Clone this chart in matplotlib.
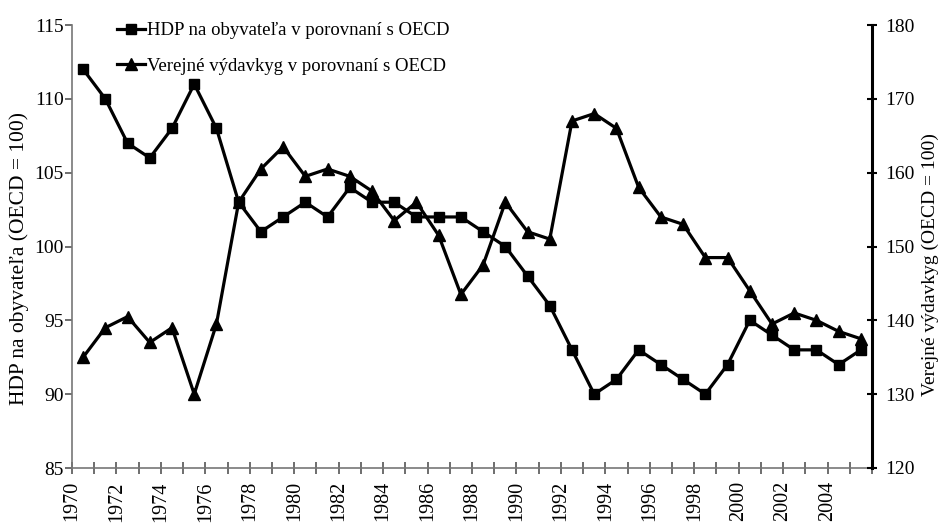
import matplotlib
matplotlib.use("Agg")
import matplotlib.pyplot as plt
import numpy as np

years = list(range(1970, 2006))
hdp = [112, 110, 107, 106, 108, 111, 108, 103, 101, 102, 103, 102, 104, 103, 103, 102,
       102, 102, 101, 100, 98, 96, 93, 90, 91, 93, 92, 91, 90, 92, 95, 94, 93, 93, 92, 93]
vydavky = [135, 139, 140.5, 137, 139, 130, 139.5, 156, 160.5, 163.5, 159.5, 160.5, 159.5,
           157.5, 153.5, 156, 151.5, 143.5, 147.5, 156, 152, 151, 167, 168, 166, 158, 154,
           153, 148.5, 148.5, 144, 139.5, 141, 140, 138.5, 137.5]
label_hdp = "HDP na obyvateľa v porovnaní s OECD"
label_vyd = "Verejné výdavkyg v porovnaní s OECD"
ylabel_left = "HDP na obyvateľa (OECD = 100)"
ylabel_right = "Verejné výdavkyg (OECD = 100)"

plt.rcParams['font.family'] = ['Liberation Serif', 'DejaVu Serif']

fig = plt.figure(figsize=(9.39, 5.27), dpi=100)
ax = fig.add_axes([72/939, 1-468/527, 800/939, 443/527])
ax2 = ax.twinx()

x = np.array(years) + 0.5
l1, = ax.plot(x, hdp, color='black', lw=2.3, marker='s', ms=7.5, label=label_hdp)
l2, = ax2.plot(x, vydavky, color='black', lw=2.3, marker='^', ms=8.5, label=label_vyd)

ax.set_xlim(1970, 2006)
ax.set_ylim(85, 115)
ax2.set_ylim(120, 180)
ax.set_yticks(range(85, 116, 5))
ax2.set_yticks(range(120, 181, 10))
ax.set_xticks(range(1970, 2007))
ax.set_xticklabels([str(y) if (y % 2 == 0 and y <= 2004) else '' for y in range(1970, 2007)],
                   rotation=90, fontsize=14.5)

for a in (ax, ax2):
    a.spines['top'].set_visible(False)
ax.spines['right'].set_visible(False)
ax2.spines['left'].set_visible(False)
ax2.spines['bottom'].set_visible(False)
ax.spines['left'].set_color('#777777')
ax.spines['bottom'].set_color('#777777')
ax.spines['left'].set_linewidth(1.2)
ax.spines['bottom'].set_linewidth(1.2)
ax2.spines['right'].set_color('black')
ax2.spines['right'].set_linewidth(2.2)

ax.tick_params(axis='x', direction='inout', length=9, width=1.2, color='#555555',
               labelsize=14.5, pad=5)
ax.tick_params(axis='y', direction='out', length=5, width=1.2, color='#555555',
               labelsize=14, pad=1)
ax2.tick_params(axis='y', direction='inout', length=7, width=1.5, color='black',
                labelsize=14, pad=6)

ax.set_ylabel(ylabel_left, fontsize=15.5)
ax.yaxis.set_label_coords(-0.054, 0.472)
ax2.set_ylabel(ylabel_right, fontsize=14)
ax2.yaxis.set_label_coords(1.062, 0.46)

ax2.legend(handles=[l1, l2], loc='upper left', bbox_to_anchor=(0.035, 1.045),
           frameon=False, fontsize=13.5, handlelength=1.5, handletextpad=0.1,
           labelspacing=1.0)

fig.savefig("out.png", dpi=100)
